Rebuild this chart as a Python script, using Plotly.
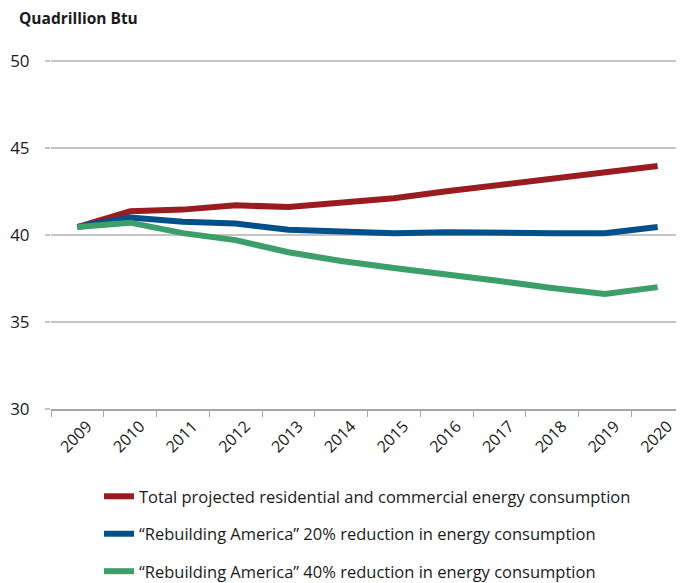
import plotly.graph_objects as go

years = [str(y) for y in range(2009, 2021)]
total = [40.45, 41.35, 41.45, 41.7, 41.6, 41.85, 42.1, 42.5, 42.85, 43.2, 43.55, 43.95]
reduce20 = [40.45, 41.0, 40.75, 40.65, 40.3, 40.2, 40.1, 40.15, 40.1, 40.1, 40.1, 40.45]
reduce40 = [40.45, 40.7, 40.1, 39.7, 39.0, 38.5, 38.1, 37.75, 37.35, 36.95, 36.6, 37.0]

names = [
    "Total projected residential and commercial energy consumption",
    "\u201cRebuilding America\u201d 20% reduction in energy consumption",
    "\u201cRebuilding America\u201d 40% reduction in energy consumption",
]
colors = ["#9b1c20", "#00508a", "#3c9e69"]
FONT = "Open Sans"

W, H = 676, 575          # page body has an 8px margin
L, R = 43, 0
T, B = 51.3, 174
PW, PH = W - L - R, H - T - B

fig = go.Figure()
for i, (vals, name, col) in enumerate(zip([total, reduce20, reduce40], names, colors)):
    fig.add_trace(go.Scatter(
        x=years, y=vals, name=name, mode="lines",
        line=dict(color=col, width=6),
        legendgroup=f"g{i}",
    ))

fig.update_layout(
    width=W, height=H,
    margin=dict(l=L, r=R, t=T, b=B, pad=0, autoexpand=False),
    paper_bgcolor="white", plot_bgcolor="white",
    font=dict(family=FONT, size=16, color="#1a1a1a"),
    showlegend=True,
    legend=dict(
        x=(91 - L) / PW, xanchor="left", y=-(471 - T - PH) / PH, yanchor="top",
        font=dict(family=FONT, size=16.5, color="#1a1a1a"),
        tracegroupgap=13, bgcolor="rgba(0,0,0,0)",
        itemwidth=30,
    ),
    xaxis=dict(
        type="category", tickson="boundaries",
        ticks="outside", ticklen=6, tickcolor="#a6a6a6", tickwidth=1,
        showline=True, linecolor="#a6a6a6", linewidth=1.5,
        showgrid=False, tickangle=-45,
        ticklabelstandoff=0, ticklabelshift=10,
        tickfont=dict(family=FONT, size=16, color="#1a1a1a"),
        range=[-0.5, 11.5],
    ),
    yaxis=dict(
        range=[30, 50.1], tickvals=[30, 35, 40, 45, 50],
        showgrid=True, gridcolor="#c4c4c4", gridwidth=1.5,
        ticks="outside", ticklen=5, tickcolor="#c4c4c4", tickwidth=1.5,
        zeroline=False, showline=False,
        ticklabelstandoff=12,
        tickfont=dict(family=FONT, size=17, color="#1a1a1a"),
    ),
    annotations=[dict(
        text="<b>Quadrillion Btu</b>", xref="paper", yref="paper",
        x=-(L - 9) / PW, y=1 + (T - 10) / PH, xanchor="left", yanchor="middle",
        showarrow=False, font=dict(family=FONT, size=15.5, color="#1a1a1a"),
    )],
)

fig.write_html("out.html")
